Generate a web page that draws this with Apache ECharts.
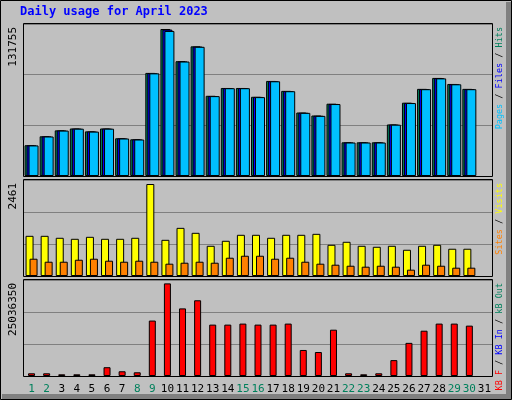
<!DOCTYPE html>
<html>
<head>
<meta charset="utf-8">
<script src="https://cdn.jsdelivr.net/npm/echarts@6/dist/echarts.min.js"></script>
<style>
html,body{margin:0;padding:0;background:#c0c0c0;}
#chart{width:512px;height:400px;}
</style>
</head>
<body>
<div id="chart"></div>
<script>
var days = ['1','2','3','4','5','6','7','8','9','10','11','12','13','14','15','16','17','18','19','20','21','22','23','24','25','26','27','28','29','30','31'];
var weekend = [1,2,8,9,15,16,22,23,29,30];   // green day labels
var hits  = [27600,35600,40900,42600,40000,42600,33800,32900,92400,131755,102900,116200,71900,78900,78900,71000,85200,76300,56900,54200,64800,30200,30200,30200,46200,65700,78100,87900,82500,78100,null];
var files = [27500,35500,40800,42500,39900,42500,33700,32800,92200,131200,102700,116000,71700,78800,78800,70900,85000,76100,56700,54000,64600,30100,30100,30100,46100,65500,77900,87700,82300,77900,null];
var pages = [27400,35400,40700,42400,39800,42400,33600,32700,92000,130000,102600,115800,71600,78700,78700,70700,84900,76000,56600,53900,64500,30000,30000,30000,46000,65400,77800,87500,82200,77800,null];
var visits = [1075,1075,1022,995,1048,995,995,1022,2461,968,1288,1155,808,942,1102,1102,1022,1102,1102,1128,835,915,808,782,808,702,808,835,729,729,null];
var sites  = [462,382,382,435,462,409,382,409,382,329,355,382,355,489,542,542,462,489,382,329,302,275,249,275,249,169,302,275,222,222,null];
var kbF = [731000,731000,457000,457000,457000,2376000,1279000,1005000,14985000,25036350,18275000,20468000,13889000,13889000,14163000,13889000,13889000,14163000,7036000,6487000,12518000,731000,457000,731000,4294000,8955000,12244000,14163000,14163000,13615000,null];
var maxLabels = ['131755','2461','25036350'];

var mono = 'DejaVu Sans Mono';
var topMax = 136240, midMax = 2568, botMax = 25950000;

function yAx(idx, max){
    return {gridIndex: idx, min: 0, max: max, interval: max/3, axisLabel: {show: false},
        axisLine: {show: false}, axisTick: {show: false},
        splitLine: {show: true, lineStyle: {color: '#808080', width: 1}}};
}
function xAx(idx, showLabels){
    return {gridIndex: idx, type: 'category', data: days, boundaryGap: true,
        axisLine: {show: false}, axisTick: {show: false},
        axisLabel: {show: showLabels, fontFamily: mono, fontSize: 11, margin: 8, interval: 0,
            color: function(v){ return weekend.indexOf(+v) >= 0 ? '#00805c' : '#000'; }}};
}
function bar(name, data, x, color, w, gap){
    return {name: name, type: 'bar', xAxisIndex: x, yAxisIndex: x, data: data, barWidth: w, barGap: gap,
        itemStyle: {color: color, borderColor: '#000', borderWidth: 1}, animation: false};
}
var grids = [
    {left: 24, right: 20, top: 24, height: 152},
    {left: 24, right: 20, top: 180, height: 96},
    {left: 24, right: 20, top: 280, height: 96}
];
var graphics = [
    {type: 'rect', shape: {x: 0.5, y: 0.5, width: 511, height: 399}, style: {fill: '#c0c0c0', stroke: '#000'}, z: -10},
    {type: 'rect', shape: {x: 506, y: 2, width: 5, height: 397}, style: {fill: '#808080'}, z: -9},
    {type: 'rect', shape: {x: 2, y: 394, width: 509, height: 5}, style: {fill: '#808080'}, z: -9},
    {type: 'text', left: 20, top: 6, style: {text: 'Daily usage for April 2023', fill: '#0000ff', font: 'bold 12px ' + mono}}
];
grids.forEach(function(g, i){
    graphics.push({type: 'rect', shape: {x: 23.5, y: g.top - 0.5, width: 469, height: g.height + 1},
        style: {fill: 'none', stroke: '#000', lineWidth: 1}, z: 10});
    graphics.push({type: 'text', x: 8, y: g.top + 3, rotation: Math.PI/2,
        style: {text: maxLabels[i], fill: '#000', font: '11px ' + mono, align: 'right', verticalAlign: 'top'}});
});
var rightLabels = [
    [['Pages','#00c0ff'],[' / ','#000'],['Files','#0000ff'],[' / ','#000'],['Hits','#00805c']],
    [['Sites','#ff8000'],[' / ','#000'],['Visits','#ffff00']],
    [['KB F','#ff0000'],[' / ','#000'],['KB In','#0000ff'],[' / ','#000'],['kB Out','#00805c']]
];
rightLabels.forEach(function(parts, i){
    var rich = {}, txt = '';
    parts.forEach(function(p, j){
        rich['p' + j] = {fill: p[1], font: '8.5px ' + mono};
        txt += '{p' + j + '|' + p[0] + '}';
    });
    graphics.push({type: 'text', x: 495, y: grids[i].top + 3, rotation: Math.PI/2,
        style: {text: txt, rich: rich, align: 'right', verticalAlign: 'top'}});
});

var chart = echarts.init(document.getElementById('chart'));
chart.setOption({
    backgroundColor: '#c0c0c0',
    animation: false,
    grid: grids,
    xAxis: [xAx(0, false), xAx(1, false), xAx(2, true)],
    yAxis: [yAx(0, topMax), yAx(1, midMax), yAx(2, botMax)],
    series: [
        bar('Hits', hits, 0, '#00805c', 10, '-80%'),
        bar('Files', files, 0, '#0000ff', 10, '-80%'),
        bar('Pages', pages, 0, '#00c0ff', 10, '-80%'),
        bar('Visits', visits, 1, '#ffff00', 8, '-50%'),
        bar('Sites', sites, 1, '#ff8000', 8, '-50%'),
        bar('KB F', kbF, 2, '#ff0000', 7, '0%')
    ],
    graphic: graphics
});
</script>
</body>
</html>
